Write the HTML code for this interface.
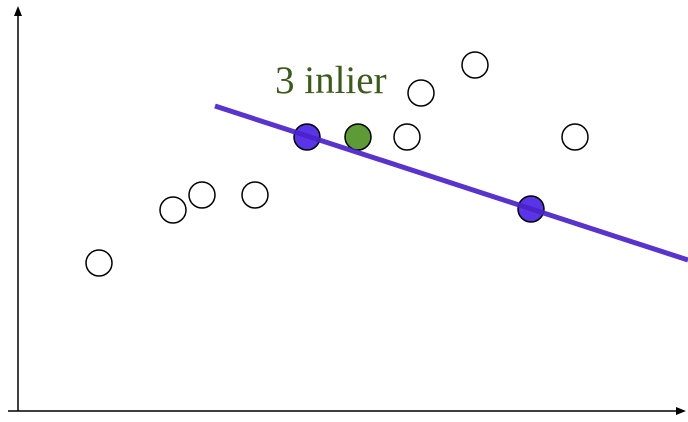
<!DOCTYPE html>
<html><head><meta charset="utf-8"><style>
html,body{margin:0;padding:0;background:#fff;width:688px;height:422px;overflow:hidden}
</style></head><body>
<svg id="chart" width="688" height="422" viewBox="0 0 688 422" xmlns="http://www.w3.org/2000/svg">
<g>
<line x1="18" y1="411" x2="18" y2="14" stroke="#000" stroke-width="1.5"/>
<polygon points="18,6 14,16 22,16" fill="#000"/>
</g>
<g>
<line x1="8" y1="411" x2="678" y2="411" stroke="#000" stroke-width="1.5"/>
<polygon points="686,411 676,407 676,415" fill="#000"/>
</g>
<text x="275" y="93" font-family="Liberation Serif, serif" font-size="39" fill="#3d5a1e">3 inlier</text>
<g id="points"></g>
<g id="fit"></g>
</svg>
<script>
const xs = [81,155,184,237,389,403,457,557,289,513,340];
const ys = [147,200,215,215,273,317,345,273,273,201,273];
const kinds = ["out","out","out","out","out","out","out","out","sample","sample","inlier"];
const lineX = [197,670];
const lineY = [304,150];
function x(v){return 18+v;}
function y(v){return 410-v;}
const ns="http://www.w3.org/2000/svg";
const pg=document.getElementById('points');
const fills={out:"#fff",sample:"#5a35e8",inlier:"#5e9a35"};
for(let i=0;i<xs.length;i++){
  const c=document.createElementNS(ns,'circle');
  c.setAttribute('cx',x(xs[i]));c.setAttribute('cy',y(ys[i]));c.setAttribute('r',13);
  c.setAttribute('fill',fills[kinds[i]]);c.setAttribute('stroke','#000');c.setAttribute('stroke-width','1.5');
  
  
  pg.appendChild(c);
}
const l=document.createElementNS(ns,'line');
l.setAttribute('x1',x(lineX[0]));l.setAttribute('y1',y(lineY[0]));
l.setAttribute('x2',x(lineX[1]));l.setAttribute('y2',y(lineY[1]));
l.setAttribute('stroke','#4a22c8');l.setAttribute('stroke-width','5');l.setAttribute('opacity','0.92');


document.getElementById('fit').appendChild(l);
</script>
</body></html>
